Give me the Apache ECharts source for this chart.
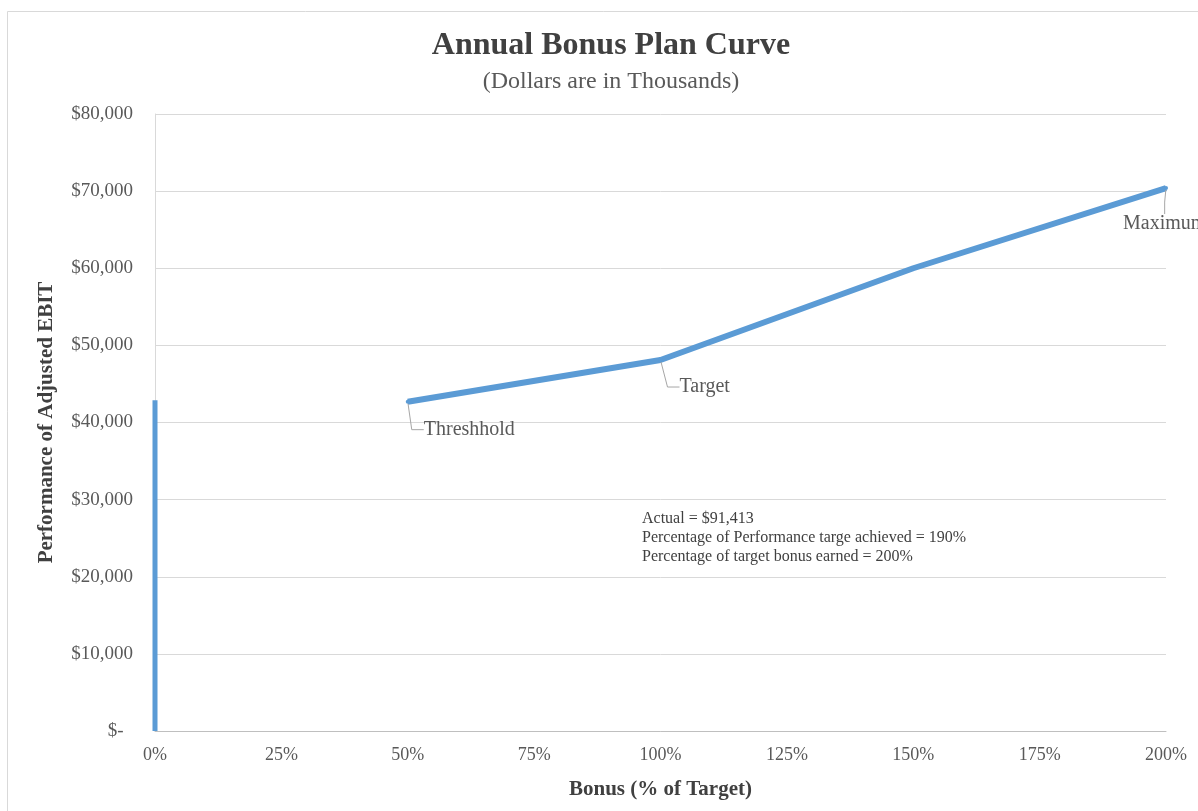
<!DOCTYPE html>
<html>
<head>
<meta charset="utf-8">
<title>Annual Bonus Plan Curve</title>
<script src="https://cdn.jsdelivr.net/npm/echarts@6/dist/echarts.min.js"></script>
<style>
html,body{margin:0;padding:0;background:#fff;}
#main{width:1198px;height:811px;}
</style>
</head>
<body>
<div id="main"></div>
<script>
// 数据
var xTicks = [0, 25, 50, 75, 100, 125, 150, 175, 200];
var bonusPct = [50, 100, 150, 200];
var ebitVal = [42700, 48100, 60000, 70400];
var pointNames = ['Threshhold', 'Target', '', 'Maximum'];
var zeroPct = [0, 0];
var zeroVal = [0, 42900];
var noteLines = [
	'Actual = $91,413',
	'Percentage of Performance targe achieved = 190%',
	'Percentage of target bonus earned = 200%'
];

var blue = '#5b9bd5';
var serif = '"Liberation Serif","Times New Roman",serif';

var myChart = echarts.init(document.getElementById('main'));

//标签位置（左上对齐，引导线才对得上）
var labelCfg = [
	{show:true, position:'right', offset:[9, 18]},
	{show:true, position:'right', offset:[12, 17]},
	{show:false},
	{show:true, position:'bottom', offset:[-43, 19]}
];

var curveData = [];
for (var i = 0; i < bonusPct.length; i++) {
	curveData.push({
		value: [bonusPct[i], ebitVal[i]],
		name: pointNames[i],
		label: labelCfg[i]
	});
}
var zeroData = [];
for (var j = 0; j < zeroPct.length; j++) {
	zeroData.push([zeroPct[j], zeroVal[j]]);
}

var option = {
	backgroundColor: '#fff',
	animation: false,
	title: {
		text: 'Annual Bonus Plan Curve',
		subtext: '(Dollars are in Thousands)',
		left: 606,
		top: 25,
		textAlign: 'center',
		itemGap: 8,
		textStyle: {fontFamily: serif, fontSize: 32, fontWeight: 'bold', color: '#404040'},
		subtextStyle: {fontFamily: serif, fontSize: 24, color: '#595959'}
	},
	grid: {left: 155, right: 32, top: 114, bottom: 80},
	xAxis: {
		type: 'value',
		min: 0,
		max: 200,
		interval: 25,
		name: 'Bonus (% of Target)',
		nameLocation: 'middle',
		nameGap: 48,
		nameTextStyle: {fontFamily: serif, fontSize: 21, fontWeight: 'bold', color: '#404040'},
		axisLine: {show: true, lineStyle: {color: '#bfbfbf', width: 1}},
		axisTick: {show: false},
		splitLine: {show: false},
		axisLabel: {
			margin: 15,
			fontFamily: serif, fontSize: 18, color: '#595959',
			formatter: function (v) { return v + '%'; }
		}
	},
	yAxis: {
		type: 'value',
		min: 0,
		max: 80000,
		interval: 10000,
		name: 'Performance of Adjusted EBIT',
		nameLocation: 'middle',
		nameGap: 98,
		nameTextStyle: {fontFamily: serif, fontSize: 21, fontWeight: 'bold', color: '#404040'},
		axisLine: {show: true, lineStyle: {color: '#d9d9d9', width: 1}},
		axisTick: {show: false},
		splitLine: {show: true, lineStyle: {color: '#d9d9d9', width: 1}},
		axisLabel: {
			margin: 22,
			fontFamily: serif, fontSize: 19, color: '#595959',
			formatter: function (v) {
				if (v === 0) return '$-  ';
				return '$' + v.toLocaleString('en-US');
			}
		}
	},
	graphic: [
		{
			type: 'rect',
			left: 5, top: 9,
			shape: {width: 1200, height: 810},
			style: {fill: 'none', stroke: '#d9d9d9', lineWidth: 1},
			silent: true
		},
		{
			type: 'text',
			left: 642, top: 509,
			style: {
				text: noteLines.join('\n'),
				font: '16px ' + serif,
				lineHeight: 19,
				fill: '#404040'
			},
			silent: true
		}
	],
	series: [
		{
			name: 'zero',
			type: 'line',
			data: zeroData,
			showSymbol: false,
			lineStyle: {color: blue, width: 5},
			silent: true
		},
		{
			name: 'curve',
			type: 'line',
			data: curveData,
			symbol: 'circle',
			symbolSize: 4,
			showSymbol: true,
			itemStyle: {color: blue},
			lineStyle: {color: blue, width: 6},
			label: {
				formatter: '{b}',
				align: 'left',
				verticalAlign: 'top',
				fontFamily: serif,
				fontSize: 20,
				lineHeight: 20,
				color: '#595959'
			},
			labelLine: {
				show: true,
				length2: 12,
				lineStyle: {color: '#a6a6a6', width: 1}
			},
			silent: true
		}
	]
};
myChart.setOption(option);
</script>
</body>
</html>
